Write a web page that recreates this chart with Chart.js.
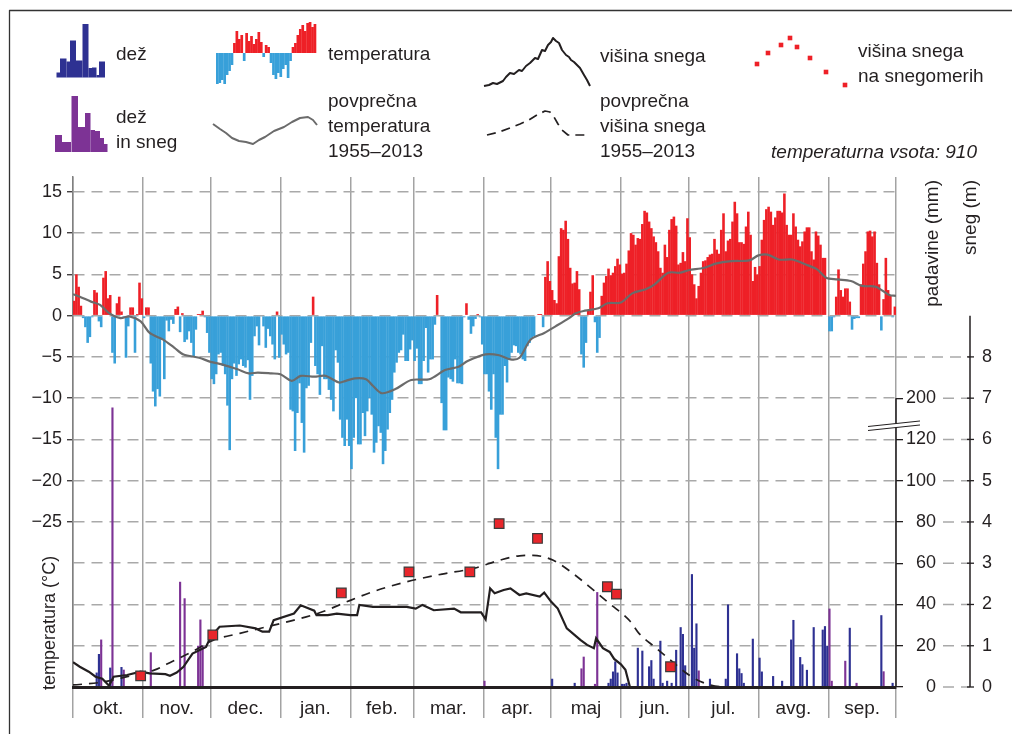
<!DOCTYPE html>
<html lang="sl">
<head>
<meta charset="utf-8">
<title>Temperatura, padavine in sneg</title>
<script src="https://cdn.jsdelivr.net/npm/chart.js@4.4.1/dist/chart.umd.min.js"></script>
<style>
  html, body { margin: 0; padding: 0; background: #fff; }
  #wrap { position: relative; width: 1012px; height: 734px; overflow: hidden; background: #fff; }
</style>
</head>
<body>
<div id="wrap"><canvas id="chartCanvas" width="1012" height="734"></canvas></div>
<script>
// hydrological year, day 0 = 1. okt.
const monthNames = ['okt.', 'nov.', 'dec.', 'jan.', 'feb.', 'mar.', 'apr.', 'maj', 'jun.', 'jul.', 'avg.', 'sep.'];
const monthDays = [31, 30, 31, 31, 28, 31, 30, 31, 30, 31, 31, 30];

// daily mean temperature (°C)
const tempOkt = [1.8, 5.0, 3.5, 1.2, -0.3, -1.4, -3.3, -2.6, -0.2, 3.1, 2.8, -0.7, -1.4, 4.6, 5.4, 2.1, 2.5, -4.5, -5.8, 1.5, 2.3, 0.5, -0.2, -5.1, -1.3, 1.0, 1.0, -4.5, 0.2, 4.0, 2.1];
const tempNov = [-0.3, 1.0, 1.0, -5.8, -9.2, -11.0, -8.9, -9.8, -2.9, -7.7, -0.6, -1.9, -0.5, -1.0, 0.8, 1.1, -2.0, 0.3, -3.2, -2.9, -1.9, -3.3, -4.9, -1.7, 0.2, 0.2, 0.6, -0.2, -2.1, -4.5];
const tempDec = [-7.7, -8.3, -7.1, -4.7, -4.5, -6.1, -7.1, -10.9, -16.3, -7.7, -5.8, -7.3, -5.9, -5.3, -6.1, -6.3, -5.4, -10.2, -7.3, -2.5, -1.3, -3.6, -0.1, -1.3, -3.9, -1.6, -2.5, -3.5, -5.3, 0.5, -5.1];
const tempJan = [-2.3, -3.5, -4.7, -4.5, -11.4, -11.6, -16.4, -11.8, -8.2, -13.0, -16.6, -8.8, -8.5, -3.3, 2.3, -6.1, -7.1, -9.6, -3.7, -7.7, -7.7, -9.0, -10.2, -11.6, -4.2, -5.7, -12.6, -14.8, -15.8, -12.6, -15.8];
const tempFeb = [-18.6, -14.8, -10.0, -15.6, -15.6, -11.8, -14.6, -11.6, -10.0, -12.0, -16.6, -15.4, -13.4, -14.2, -18.0, -16.4, -13.8, -11.8, -10.2, -6.9, -5.7, -4.5, -4.2, -2.3, -5.5, -5.5, -4.1, -3.0];
const tempMar = [-5.5, -4.0, -8.3, -8.3, -5.5, -1.5, -6.9, -5.3, -5.3, -1.1, 2.5, -0.1, -10.6, -13.9, -13.9, -7.5, -7.7, -8.0, -5.3, -8.2, -8.2, -8.3, -0.2, 1.5, -0.5, -2.2, -1.3, -0.4, 0.2, -0.2, -3.5];
const tempApr = [-7.1, -7.1, -9.2, -11.4, -7.1, -14.8, -18.6, -12.0, -12.0, -6.1, -8.1, -5.3, -4.5, -3.6, -3.7, -4.5, -4.7, -5.3, -5.5, -3.7, -3.3, -2.7, -2.5, -0.1, 0.2, 0.2, -1.4, 4.7, 6.6, 4.2];
const tempMaj = [3.1, 1.9, 1.5, 7.2, 10.6, 10.4, 11.5, 9.3, 5.8, 3.9, 4.0, 5.4, 3.2, -4.7, -6.3, -3.3, 0.6, 2.9, 4.9, -0.8, -4.5, -2.7, 2.4, 4.0, 4.8, 5.7, 4.9, 5.2, 6.0, 6.9, 6.2];
const tempJun = [5.1, 5.2, 6.3, 7.9, 10.0, 9.8, 8.6, 9.4, 9.3, 11.1, 12.7, 12.5, 11.4, 10.6, 9.6, 8.9, 7.8, 5.8, 5.2, 8.6, 7.1, 10.4, 11.7, 12.0, 10.9, 6.2, 6.4, 7.7, 6.6, 11.8];
const tempJul = [9.5, 5.0, 3.8, 2.1, 3.6, 5.2, 6.6, 6.7, 7.1, 7.4, 7.5, 9.3, 8.0, 7.5, 10.4, 12.4, 7.8, 9.1, 9.3, 11.4, 13.8, 12.4, 8.9, 8.9, 8.7, 10.8, 12.6, 9.8, 4.2, 5.9, 5.0];
const tempAvg = [6.0, 9.2, 11.6, 12.9, 13.2, 12.6, 11.0, 11.9, 12.7, 12.7, 12.5, 14.8, 11.0, 9.8, 9.8, 12.4, 10.8, 9.2, 8.4, 9.0, 10.2, 10.7, 10.7, 7.8, 6.8, 10.2, 9.7, 8.6, 7.0, 7.0, -0.1];
const tempSep = [-1.9, -1.9, -0.2, 2.3, 5.6, 3.1, 2.3, 3.3, 3.3, 1.7, -1.7, -0.4, -0.3, -0.3, 3.8, 6.3, 7.8, 10.2, 10.3, 9.6, 10.2, 6.4, 3.8, -1.8, 2.0, 7.0, 3.1, 2.5, -0.2, 1.1];

// average temperature 1955–2013 (day, °C)
const avgTempDays = [0, 3, 8, 12, 16, 21, 25, 30, 34, 40, 45, 49, 56, 61, 66, 73, 78, 82, 88, 92, 97, 101, 107, 112, 118, 121, 125, 130, 133, 137, 143, 150, 158, 165, 171, 175, 183, 189, 194, 198, 203, 209, 214, 220, 223, 227, 233, 237, 243, 248, 254, 258, 264, 269, 273, 280, 285, 292, 300, 304, 308, 313, 319, 325, 330, 334, 339, 345, 350, 356, 362, 365];
const avgTemp = [2.6, 2.3, 1.7, 1.3, 0.3, -0.3, -0.1, -0.7, -2.1, -2.9, -3.9, -4.7, -5.1, -5.6, -5.9, -6.5, -7.0, -6.9, -7.0, -7.1, -7.9, -7.3, -7.4, -7.3, -8.1, -7.9, -7.6, -7.7, -8.5, -9.4, -8.9, -7.8, -7.7, -6.6, -6.2, -5.5, -4.7, -4.8, -5.3, -5.1, -2.9, -2.1, -1.3, -0.3, 0.3, 0.6, 0.9, 1.5, 1.6, 2.7, 3.2, 3.8, 5.2, 5.2, 5.5, 5.8, 6.3, 6.6, 6.7, 7.3, 7.4, 6.8, 6.8, 6.2, 5.6, 4.6, 4.4, 4.2, 3.6, 3.5, 2.5, 2.4];

// precipitation (mm): rain / rain and snow
const rainDays = [10, 11, 16, 21, 212, 222, 237, 238, 239, 240, 241, 243, 244, 245, 250, 252, 255, 256, 257, 260, 261, 263, 265, 267, 269, 270, 271, 274, 275, 276, 282, 289, 290, 294, 295, 296, 297, 301, 304, 305, 310, 314, 318, 319, 322, 323, 325, 328, 332, 333, 334, 344, 358, 363];
const rainMm = [7, 16, 9.4, 9.7, 4, 2, 2, 4, 7.5, 12.4, 7, 1.5, 1.5, 2, 19, 17.6, 10, 13, 4, 22.4, 2, 3, 2, 18, 29, 25.7, 10.5, 54.7, 19, 30.8, 4, 4, 40, 16.3, 9, 6.7, 2, 23.4, 14.2, 7.5, 5.3, 3, 23, 32.5, 14.5, 11, 8.3, 29, 27.8, 29.5, 20, 28.7, 34.8, 2];
const mixDays = [12, 17, 22, 34, 47, 49, 55, 56, 57, 182, 225, 226, 231, 232, 277, 335, 336, 342, 347, 359];
const mixMm = [23, 182, 8.4, 16.8, 51, 43, 20, 32.7, 20, 3, 9, 14.7, 1.5, 46, 8, 38, 3, 12.7, 2, 7.6];

// snow depth (m)
const snowDays = [0, 3, 7, 10, 13, 16, 18, 24, 30, 34, 41, 43, 46, 49, 53, 59, 61, 65, 74, 81, 84, 87, 89, 98, 101, 107, 108, 113, 117, 123, 126, 127, 133, 148, 152, 155, 160, 169, 172, 181, 183, 185, 187, 191, 194, 198, 201, 207, 209, 212, 215, 219, 225, 228, 231, 232, 235, 238, 240, 243, 245, 247, 365];
const snowDepth = [0.60, 0.49, 0.37, 0.25, 0.20, 0.03, 0.25, 0.29, 0.37, 0.33, 0.31, 0.27, 0.35, 0.49, 0.81, 0.97, 1.21, 1.46, 1.49, 1.42, 1.34, 1.34, 1.62, 1.78, 1.98, 1.85, 1.74, 1.74, 1.78, 1.74, 1.74, 1.99, 1.94, 1.94, 1.90, 1.99, 1.86, 1.90, 1.81, 1.81, 1.64, 2.39, 2.27, 2.35, 2.39, 2.23, 2.27, 2.19, 2.29, 2.07, 1.90, 1.42, 1.14, 1.02, 0.94, 1.18, 0.94, 0.85, 0.68, 0.55, 0.42, 0, 0];
const avgSnowDays = [0, 12, 24, 36, 44, 53, 62, 74, 86, 98, 110, 123, 133, 148, 163, 178, 189, 198, 204, 213, 222, 231, 238, 247, 251, 258, 265, 274, 282, 290, 365];
const avgSnowDepth = [0.05, 0.11, 0.25, 0.41, 0.62, 0.86, 1.13, 1.30, 1.46, 1.62, 1.81, 2.10, 2.31, 2.55, 2.73, 2.88, 3.07, 3.18, 3.19, 3.07, 2.74, 2.34, 2.02, 1.60, 1.30, 0.97, 0.65, 0.26, 0.06, 0, 0];
const gaugeDays = [30, 62, 119, 149, 176, 189, 206, 237, 241, 265];
const gaugeDepth = [0.27, 1.26, 2.28, 2.79, 2.79, 3.96, 3.60, 2.43, 2.25, 0.49];

// axis ticks
const tempTicks = [15, 10, 5, 0, -5, -10, -15, -20, -25, -30, -35, -40, -45];
const precipTicks = [0, 20, 40, 60, 80, 100, 120, 200];
const snowTicks = [0, 1, 2, 3, 4, 5, 6, 7, 8];

const FONT = '"Liberation Sans", Arial, Helvetica, sans-serif';
const INK = '#231f20';
const RED = '#ee2027';
const BLUE = '#38a0d9';
const NAVY = '#2e3192';
const PURPLE = '#7d3395';
const GRID = '#a9a9a9';

const tempMin = -45, tempMax = 16.8;

const monthStarts = [];
monthDays.reduce((acc, n) => { monthStarts.push(acc); return acc + n; }, 0);
const yearDays = monthDays.reduce((a, b) => a + b, 0);
const monthMids = monthStarts.map((s, i) => s + monthDays[i] / 2);
const boundaries = monthStarts.concat([yearDays]);

const temperature = [].concat(tempOkt, tempNov, tempDec, tempJan, tempFeb, tempMar,
    tempApr, tempMaj, tempJun, tempJul, tempAvg, tempSep);

// precipitation axis is broken above 120 mm (120..200 squeezed 4x)
const plotMm = v => v <= 120 ? v : 120 + (v - 120) / 4;

const pts = (xs, ys) => xs.map((x, i) => ({ x: x, y: ys[i] }));
const dayBars = (xs, ys) => xs.map((x, i) => ({ x: x + 0.5, y: ys[i] }));

const fmtTemp = v => (v < 0 ? '\u2212' + Math.abs(v) : String(v));

function strokePath(ctx, p, color, width, dash) {
    ctx.save();
    ctx.strokeStyle = color;
    ctx.lineWidth = width;
    ctx.lineJoin = 'round';
    ctx.setLineDash(dash || []);
    ctx.beginPath();
    p.forEach(([x, y], i) => i ? ctx.lineTo(x, y) : ctx.moveTo(x, y));
    ctx.stroke();
    ctx.restore();
}

function drawLegend(ctx) {
    // rain glyph
    ctx.fillStyle = NAVY;
    [[56.5, 60, 72.5], [60, 66.5, 58.5], [66.5, 70, 61.5], [70, 76, 40.5], [76, 82.5, 60.5], [82.5, 88.5, 24],
     [88.5, 92, 68], [92, 96.5, 67.5], [96.5, 99, 75], [99, 105, 61.5]]
        .forEach(([a, b, t]) => ctx.fillRect(a, t, b - a, 77.5 - t));
    // rain + snow glyph
    ctx.fillStyle = PURPLE;
    [[55, 62, 135], [62, 71, 142], [71.5, 78, 96], [78, 85, 127], [85, 90.5, 113], [90.5, 95, 130],
     [95, 100, 131], [100, 104, 138], [104, 107.5, 144]]
        .forEach(([a, b, t]) => ctx.fillRect(a, t, b - a, 152 - t));
    // temperature glyph
    const g = [-31, -30, -27, -31, -22, -18, -12, 10, 22, 14, 18, -8, 20, 12, 17, 9, 14, 21, 11, -4, 8, 6, -10,
        -22, -26, -20, -24, -16, -12, -25, -8, 6, 10, 18, 24, 28, 22, 30, 31, 26, 29];
    g.forEach((h, i) => {
        ctx.fillStyle = h >= 0 ? RED : BLUE;
        ctx.fillRect(216 + i * 2.44, h >= 0 ? 53 - h : 53, 2.7, Math.abs(h));
    });
    // average temperature glyph
    strokePath(ctx, [[213, 124], [220, 129], [226, 133], [232, 138], [239, 141], [246, 142], [253, 144], [259, 140],
        [265, 137], [274, 131], [284, 127], [292, 122], [300, 118], [308, 117], [313, 120], [317, 125]], '#6b6b6b', 2);
    // snow depth glyph
    strokePath(ctx, [[484, 86], [489, 85], [493, 83], [497, 84], [503, 81], [506, 77], [510, 73], [514, 74], [519, 70],
        [522, 71], [526, 66], [530, 63], [535, 58], [538, 59], [542, 50], [545, 51], [548, 45], [551, 42], [553, 38],
        [556, 41], [559, 43], [562, 50], [566, 55], [569, 57], [571, 60], [574, 62], [577, 65], [580, 68], [584, 75],
        [587, 80], [590, 86]], INK, 2);
    // average snow depth glyph
    strokePath(ctx, [[487, 135], [499, 132], [510, 128], [520, 124], [529, 120], [537, 115], [545, 111], [550, 112],
        [554, 117], [558, 124], [562, 130], [568, 135], [590, 135]], INK, 1.7, [9, 6]);
    // snow gauge glyph
    ctx.fillStyle = RED;
    [[757, 64], [768, 53], [781, 45], [790, 38], [797, 47], [810, 58], [826, 72], [845, 85]]
        .forEach(([x, y]) => ctx.fillRect(x - 2.3, y - 2.3, 4.6, 4.6));

    ctx.fillStyle = INK;
    ctx.font = '19px ' + FONT;
    ctx.textAlign = 'left';
    ctx.textBaseline = 'alphabetic';
    [['dež', 116, 60], ['temperatura', 328, 60], ['višina snega', 600, 62], ['višina snega', 858, 57],
     ['na snegomerih', 858, 82], ['dež', 116, 123], ['in sneg', 116, 148], ['povprečna', 328, 107],
     ['temperatura', 328, 132], ['1955–2013', 328, 157], ['povprečna', 600, 107], ['višina snega', 600, 132],
     ['1955–2013', 600, 157]].forEach(([t, x, y]) => ctx.fillText(t, x, y));
    ctx.font = 'italic 19px ' + FONT;
    ctx.textAlign = 'right';
    ctx.fillText('temperaturna vsota: 910', 977, 158);
}

const decor = {
    id: 'decor',
    afterDraw(chart) {
        const ctx = chart.ctx;
        const area = chart.chartArea;
        const yP = chart.scales.yP;
        const yS = chart.scales.yS;
        const snowX = yP.right + 34;

        ctx.save();
        // outer frame
        strokePath(ctx, [[9.5, 734], [9.5, 10.5], [1012, 10.5]], '#333', 1.3);

        drawLegend(ctx);

        // grid lines carried over to the snow axis, snow tick marks
        snowTicks.forEach(v => {
            const y = yS.getPixelForValue(v);
            const x0 = v === 8 ? area.right : yP.right + 7;
            strokePath(ctx, [[x0, y], [snowX, y]], GRID, 1.5, [11, 7]);
            strokePath(ctx, [[snowX - 3, y], [snowX + 4, y]], INK, 1.3);
        });

        // right axis lines
        strokePath(ctx, [[yP.left, yP.getPixelForValue(0)], [yP.left, yP.getPixelForValue(plotMm(200))]], INK, 1.5);
        strokePath(ctx, [[snowX, yS.getPixelForValue(0)], [snowX, yS.getPixelForValue(9)]], INK, 1.5);

        // axis break
        const yb = yP.getPixelForValue(127);
        const xa = area.right - 28, xb = area.right + 24;
        ctx.fillStyle = '#fff';
        ctx.beginPath();
        ctx.moveTo(xa, yb + 1.5);
        ctx.lineTo(xb, yb - 4);
        ctx.lineTo(xb, yb);
        ctx.lineTo(xa, yb + 5.5);
        ctx.closePath();
        ctx.fill();
        strokePath(ctx, [[xa, yb + 1.5], [xb, yb - 4]], INK, 1);
        strokePath(ctx, [[xa, yb + 5.5], [xb, yb]], INK, 1);

        // axis titles
        ctx.fillStyle = INK;
        ctx.textBaseline = 'middle';
        ctx.font = '18px ' + FONT;
        ctx.save();
        ctx.translate(50, 690);
        ctx.rotate(-Math.PI / 2);
        ctx.textAlign = 'left';
        ctx.fillText('temperatura (°C)', 0, 0);
        ctx.restore();
        ctx.font = '19px ' + FONT;
        [['padavine (mm)', 933], ['sneg (m)', 971]].forEach(([t, x]) => {
            ctx.save();
            ctx.translate(x, 180);
            ctx.rotate(-Math.PI / 2);
            ctx.textAlign = 'right';
            ctx.fillText(t, 0, 0);
            ctx.restore();
        });
        ctx.restore();
    }
};

const isBoundary = v => boundaries.indexOf(v) >= 0;

const ctx = document.getElementById('chartCanvas').getContext('2d');
const chartInstance = new Chart(ctx, {
    type: 'bar',
    data: {
        datasets: [
            {
                type: 'line',
                label: 'višina snega na snegomerih',
                data: pts(gaugeDays, gaugeDepth),
                yAxisID: 'yS',
                showLine: false,
                pointStyle: 'rect',
                pointRadius: 6.8,
                pointBackgroundColor: '#e8262b',
                pointBorderColor: '#3b3b3b',
                pointBorderWidth: 1.2,
                order: 0
            },
            {
                type: 'line',
                label: 'višina snega',
                data: pts(snowDays, snowDepth),
                yAxisID: 'yS',
                borderColor: INK,
                borderWidth: 2.2,
                pointRadius: 0,
                tension: 0,
                order: 1
            },
            {
                type: 'line',
                label: 'povprečna višina snega 1955–2013',
                data: pts(avgSnowDays, avgSnowDepth),
                yAxisID: 'yS',
                borderColor: INK,
                borderWidth: 1.7,
                borderDash: [9, 7],
                pointRadius: 0,
                cubicInterpolationMode: 'monotone',
                order: 2
            },
            {
                type: 'line',
                label: 'povprečna temperatura 1955–2013',
                data: pts(avgTempDays, avgTemp),
                yAxisID: 'y',
                borderColor: '#6b6b6b',
                borderWidth: 2.2,
                pointRadius: 0,
                tension: 0.3,
                order: 3
            },
            {
                label: 'dež',
                data: dayBars(rainDays, rainMm.map(plotMm)),
                yAxisID: 'yP',
                backgroundColor: NAVY,
                grouped: false,
                barPercentage: 0.95,
                categoryPercentage: 1,
                order: 4
            },
            {
                label: 'dež in sneg',
                data: dayBars(mixDays, mixMm.map(plotMm)),
                yAxisID: 'yP',
                backgroundColor: PURPLE,
                grouped: false,
                barPercentage: 0.95,
                categoryPercentage: 1,
                order: 5
            },
            {
                label: 'temperatura',
                data: temperature.map((v, i) => ({ x: i + 0.5, y: v })),
                yAxisID: 'y',
                backgroundColor: c => (c.raw && c.raw.y >= 0) ? RED : BLUE,
                grouped: false,
                barPercentage: 1.15,
                categoryPercentage: 1,
                order: 6
            }
        ]
    },
    options: {
        responsive: false,
        devicePixelRatio: 1,
        animation: false,
        events: [],
        layout: { padding: { top: 177, left: 0, right: 20, bottom: 0 } },
        plugins: {
            legend: { display: false },
            tooltip: { enabled: false }
        },
        scales: {
            x: {
                type: 'linear',
                min: 0,
                max: yearDays,
                offset: false,
                afterBuildTicks: s => { s.ticks = boundaries.concat(monthMids).map(v => ({ value: v })); },
                afterFit: s => { s.height = 47; },
                grid: {
                    offset: false,
                    color: c => isBoundary(c.tick && c.tick.value) ? '#a3a3a3' : 'rgba(0,0,0,0)',
                    lineWidth: 1.5,
                    tickLength: 31
                },
                border: { display: true, color: INK, width: 3, z: 1 },
                ticks: {
                    autoSkip: false,
                    maxRotation: 0,
                    padding: -21,
                    color: INK,
                    font: { size: 19, family: FONT },
                    callback: v => {
                        const i = monthMids.indexOf(v);
                        return i >= 0 ? monthNames[i] : '';
                    }
                }
            },
            y: {
                type: 'linear',
                position: 'left',
                min: tempMin,
                max: tempMax,
                afterBuildTicks: s => { s.ticks = tempTicks.map(v => ({ value: v })); },
                afterFit: s => { s.width = 73; },
                grid: {
                    color: GRID,
                    lineWidth: 1.5,
                    tickLength: 6,
                    tickWidth: 1.2,
                    tickColor: c => (c.tick && c.tick.value >= -25) ? INK : 'rgba(0,0,0,0)'
                },
                border: { color: '#808080', width: 1.5, dash: [11, 7] },
                ticks: {
                    padding: 5,
                    color: INK,
                    font: { size: 18, family: FONT },
                    callback: v => v >= -25 ? fmtTemp(v) : ''
                }
            },
            yP: {
                type: 'linear',
                position: 'right',
                weight: 0,
                min: 0,
                max: (tempMax - tempMin) * 4,
                afterBuildTicks: s => { s.ticks = precipTicks.map(v => ({ value: plotMm(v) })); },
                afterFit: s => { s.width = 40; },
                grid: { drawOnChartArea: false, tickLength: 7, color: INK, lineWidth: 1.3 },
                border: { display: false },
                ticks: {
                    padding: 3,
                    crossAlign: 'far',
                    color: INK,
                    font: { size: 18, family: FONT },
                    callback: v => v > 120 ? String(precipTicks[precipTicks.length - 1]) : String(v)
                }
            },
            yS: {
                type: 'linear',
                position: 'right',
                weight: 1,
                min: 0,
                max: (tempMax - tempMin) / 5,
                afterBuildTicks: s => { s.ticks = snowTicks.map(v => ({ value: v })); },
                afterFit: s => { s.width = 56; },
                grid: { display: false, drawOnChartArea: false },
                border: { display: false },
                ticks: {
                    padding: 3,
                    crossAlign: 'far',
                    color: INK,
                    font: { size: 18, family: FONT }
                }
            }
        }
    },
    plugins: [decor]
});
</script>
</body>
</html>
